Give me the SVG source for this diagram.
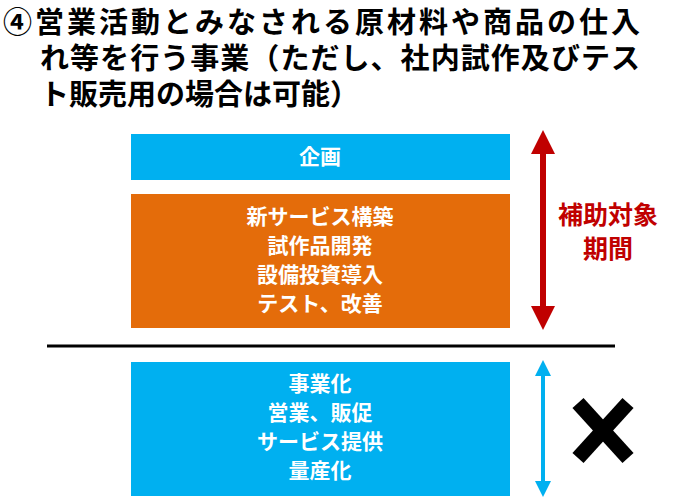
<svg xmlns="http://www.w3.org/2000/svg" width="688" height="504" viewBox="0 0 688 504">
<style>
.t{font-family:"Noto Sans CJK JP","Liberation Sans",sans-serif;font-weight:bold}
.h{font-size:29px;fill:#000}
.b{font-size:21px;fill:#fff;text-anchor:middle}
.r{font-size:25px;fill:#c00000;text-anchor:middle}
</style>
<defs>
<marker id="ar" markerWidth="4" markerHeight="4" refX="2" refY="2" orient="auto-start-reverse" markerUnits="strokeWidth"><path d="M0,0L4,2L0,4z" fill="#c00000"/></marker>
<marker id="ab" markerWidth="4" markerHeight="4" refX="2" refY="2" orient="auto-start-reverse" markerUnits="strokeWidth"><path d="M0,0L4,2L0,4z" fill="#00b0f0"/></marker>
</defs>
<rect width="688" height="504" fill="#fff"/>
<g id="title" class="t h">
<text x="3" y="33" textLength="637" lengthAdjust="spacing">④営業活動とみなされる原材料や商品の仕入</text>
<text x="40" y="69" textLength="600" lengthAdjust="spacing">れ等を行う事業（ただし、社内試作及びテス</text>
<text x="40" y="105">ト販売用の場合は可能）</text>
</g>
<g id="plan"><rect x="131" y="134" width="379" height="46" fill="#00b0f0"/><text class="t b" x="320" y="164">企画</text></g>
<g id="dev"><rect x="131" y="194" width="379" height="134" fill="#e46c0a"/>
<text class="t b" x="320" y="224">新サービス構築</text><text class="t b" x="320" y="253">試作品開発</text><text class="t b" x="320" y="282">設備投資導入</text><text class="t b" x="320" y="311">テスト、改善</text></g>
<g id="biz"><rect x="131" y="362" width="379" height="134" fill="#00b0f0"/>
<text class="t b" x="320" y="391">事業化</text><text class="t b" x="320" y="420">営業、販促</text><text class="t b" x="320" y="449">サービス提供</text><text class="t b" x="320" y="478">量産化</text></g>
<g id="connectors">
<line x1="47" y1="346" x2="615" y2="346" stroke="#000" stroke-width="3"/>
<line x1="543" y1="142" x2="543" y2="318" stroke="#c00000" stroke-width="6" marker-start="url(#ar)" marker-end="url(#ar)"/>
<line x1="543" y1="368" x2="543" y2="489" stroke="#00b0f0" stroke-width="4" marker-start="url(#ab)" marker-end="url(#ab)"/>
</g>
<g id="label"><text class="t r" x="608" y="224">補助対象</text><text class="t r" x="608" y="258">期間</text></g>
<g id="cross" stroke="#000" stroke-width="15"><line x1="578" y1="403" x2="628" y2="458"/><line x1="628" y1="403" x2="578" y2="458"/></g>
</svg>
